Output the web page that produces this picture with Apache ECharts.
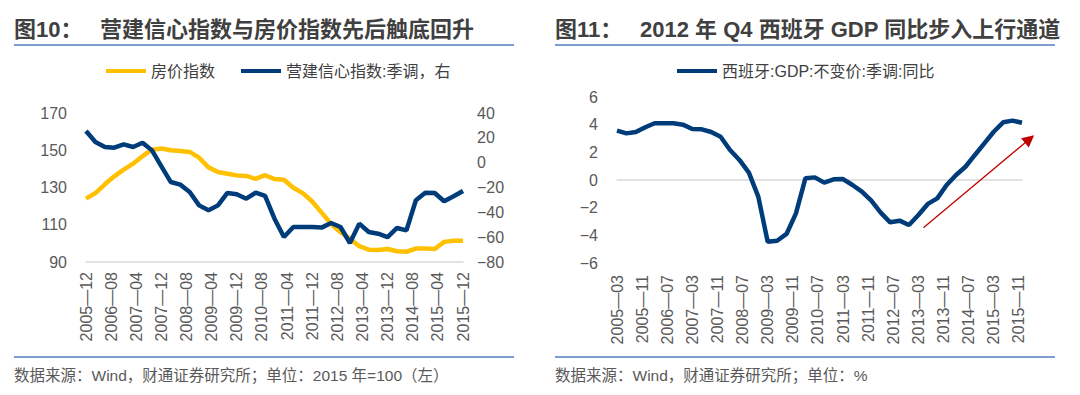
<!DOCTYPE html>
<html><head><meta charset="utf-8">
<script src="https://cdn.jsdelivr.net/npm/echarts@6/dist/echarts.min.js"></script>
<style>html,body{margin:0;padding:0;background:#fff;}#c{width:1080px;height:395px;}</style>
</head><body><div id="c"></div>
<script>
// ---------- data ----------
const houseName = '房价指数';
const confName = '营建信心指数:季调，右';
const gdpName = '西班牙:GDP:不变价:季调:同比';

// quarterly house price index (2015=100), 2005-12 .. 2015-12
const housePrice = [124.0, 127.0, 131.7, 136.0, 139.6, 142.8, 146.8, 150.3, 150.9, 150.0,
  149.6, 149.1, 146.0, 140.8, 138.3, 137.4, 136.5, 136.2, 134.6, 136.6,
  134.5, 134.2, 129.9, 127.0, 122.5, 116.5, 110.5, 106.0, 102.5, 98.5,
  96.6, 96.5, 97.0, 95.8, 95.5, 97.2, 97.3, 97.0, 100.8, 101.4, 101.4];
// quarterly construction confidence (SA), right axis
const constructionConf = [25.5, 16.6, 12.6, 12.1, 14.8, 12.6, 16.1, 9.9, -3.0, -15.6,
  -17.7, -23.6, -34.4, -38.4, -34.4, -24.4, -25.5, -29.0, -24.2, -26.8,
  -45.1, -59.9, -51.8, -51.8, -51.8, -52.3, -48.6, -51.8, -64.7, -49.1,
  -55.8, -57.2, -59.9, -52.6, -54.5, -30.3, -24.2, -24.4, -31.1, -27.1, -22.8];
// quarterly Spain real GDP yoy (%), 2005-03 .. 2015-12
const spainGdp = [3.57, 3.37, 3.47, 3.81, 4.10, 4.10, 4.10, 4.00, 3.69, 3.66,
  3.47, 3.13, 2.17, 1.45, 0.53, -1.20, -4.46, -4.39, -3.90, -2.41,
  0.12, 0.19, -0.19, 0.05, 0.07, -0.36, -0.84, -1.49, -2.36, -3.06,
  -2.94, -3.25, -2.53, -1.73, -1.33, -0.36, 0.36, 0.96, 1.81, 2.65,
  3.49, 4.17, 4.29, 4.14];

// axis ranges / ticks
const leftAxisTicks = {min: 90, max: 170, interval: 20};
const rightAxisTicks = {min: -80, max: 40, interval: 20};
const gdpAxisTicks = {min: -6, max: 6, interval: 2};

// arrow annotation (month index on the GDP axis, value)
const arrowFrom = [97.6, -3.45];
const arrowTo = [131.4, 2.96];

function monthRange(start, end, step) {
  let [y, m] = start.split('-').map(Number);
  const [ey, em] = end.split('-').map(Number);
  const out = [];
  while (y < ey || (y === ey && m <= em)) {
    out.push(y + '-' + String(m).padStart(2, '0'));
    m += step; while (m > 12) { m -= 12; y++; }
  }
  return out;
}
const leftMonths = monthRange('2005-12', '2015-12', 1);
const leftQuarters = monthRange('2005-12', '2015-12', 3);
const rightMonths = monthRange('2005-03', '2015-12', 1);
const rightQuarters = monthRange('2005-03', '2015-12', 3);

// ---------- styles ----------
const FONT = 'Liberation Sans, Arial, Noto Sans CJK SC, sans-serif';
const YELLOW = '#FFC000';
const NAVY = '#003C7A';
const LABEL = '#595959';
const minusFmt = v => (v < 0 ? '\u2212' + Math.abs(v) : String(v));
const dateFmt = v => v.replace('-', '\u2014');

const chart = echarts.init(document.getElementById('c'), null, {renderer: 'svg'});

const titleStyle = {fontSize: 22, fontWeight: 'bold', color: '#404040', fontFamily: FONT};
const footStyle = {fontSize: 15.5, fontWeight: 'normal', color: LABEL, fontFamily: FONT};

const option = {
  animation: false,
  backgroundColor: '#fff',
  textStyle: {fontFamily: FONT},
  title: [
    {text: '图10：', left: 14, top: 18, padding: 0, textStyle: titleStyle},
    {text: '营建信心指数与房价指数先后触底回升', left: 100, top: 18, padding: 0, textStyle: titleStyle},
    {text: '图11：', left: 555, top: 18, padding: 0, textStyle: titleStyle},
    {text: '2012 年 Q4 西班牙 GDP 同比步入上行通道', left: 640, top: 18, padding: 0, textStyle: titleStyle},
    {text: '数据来源：Wind，财通证券研究所；单位：2015 年=100（左）', left: 14, top: 368, padding: 0, textStyle: footStyle},
    {text: '数据来源：Wind，财通证券研究所；单位：%', left: 555, top: 368, padding: 0, textStyle: footStyle}
  ],
  graphic: [
    {type: 'line', shape: {x1: 14, y1: 45, x2: 514, y2: 45}, style: {stroke: '#4F81BD', lineWidth: 1.5}},
    {type: 'line', shape: {x1: 555, y1: 45, x2: 1055, y2: 45}, style: {stroke: '#4F81BD', lineWidth: 1.5}},
    {type: 'line', shape: {x1: 14, y1: 357, x2: 514, y2: 357}, style: {stroke: '#4F81BD', lineWidth: 1.5}},
    {type: 'line', shape: {x1: 555, y1: 357, x2: 1055, y2: 357}, style: {stroke: '#4F81BD', lineWidth: 1.5}}
  ],
  legend: [
    {data: [houseName, confName], left: 106, top: 63, padding: 0, icon: 'rect', itemWidth: 40, itemHeight: 4,
     itemGap: 26, textStyle: {fontSize: 16, color: '#404040', fontFamily: FONT}},
    {data: [gdpName], left: 677, top: 63, padding: 0, icon: 'rect', itemWidth: 40, itemHeight: 4,
     textStyle: {fontSize: 16, color: '#404040', fontFamily: FONT}}
  ],
  grid: [
    {left: 86, top: 113, width: 377, height: 149},
    {left: 617, top: 97, width: 405, height: 166}
  ],
  xAxis: [
    {gridIndex: 0, type: 'category', data: leftMonths, boundaryGap: false,
     axisLine: {onZero: false, lineStyle: {color: '#D9D9D9', width: 1.5}}, axisTick: {show: false},
     axisLabel: {interval: 7, rotate: 90, margin: 10, fontSize: 16, color: LABEL, formatter: dateFmt}},
    {gridIndex: 1, type: 'category', data: rightMonths, boundaryGap: false, position: 'bottom',
     axisLine: {show: false, onZero: false}, axisTick: {show: false},
     axisLabel: {interval: 7, rotate: 90, margin: 12, fontSize: 16, color: LABEL, formatter: dateFmt}},
    {gridIndex: 1, type: 'category', data: rightMonths, boundaryGap: false, position: 'bottom',
     axisLine: {show: true, onZero: true, lineStyle: {color: '#D9D9D9', width: 1.5}},
     axisTick: {show: false}, axisLabel: {show: false}}
  ],
  yAxis: [
    {gridIndex: 0, type: 'value', position: 'left', min: leftAxisTicks.min, max: leftAxisTicks.max, interval: leftAxisTicks.interval,
     axisLine: {show: false}, axisTick: {show: false}, splitLine: {show: false},
     axisLabel: {margin: 19, fontSize: 16, color: LABEL}},
    {gridIndex: 0, type: 'value', position: 'right', min: rightAxisTicks.min, max: rightAxisTicks.max, interval: rightAxisTicks.interval,
     axisLine: {show: false}, axisTick: {show: false}, splitLine: {show: false},
     axisLabel: {margin: 14, fontSize: 16, color: LABEL, formatter: minusFmt}},
    {gridIndex: 1, type: 'value', min: gdpAxisTicks.min, max: gdpAxisTicks.max, interval: gdpAxisTicks.interval,
     axisLine: {show: false}, axisTick: {show: false}, splitLine: {show: false},
     axisLabel: {margin: 19, fontSize: 16, color: LABEL, formatter: minusFmt}}
  ],
  series: [
    {name: houseName, type: 'line', xAxisIndex: 0, yAxisIndex: 0, showSymbol: false,
     data: leftQuarters.map((d, i) => [d, housePrice[i]]),
     itemStyle: {color: YELLOW}, lineStyle: {color: YELLOW, width: 4.5}},
    {name: confName, type: 'line', xAxisIndex: 0, yAxisIndex: 1, showSymbol: false,
     data: leftQuarters.map((d, i) => [d, constructionConf[i]]),
     itemStyle: {color: NAVY}, lineStyle: {color: NAVY, width: 4.5}},
    {name: gdpName, type: 'line', xAxisIndex: 1, yAxisIndex: 2, showSymbol: false,
     data: rightQuarters.map((d, i) => [d, spainGdp[i]]),
     itemStyle: {color: NAVY}, lineStyle: {color: NAVY, width: 4.5}}
  ]
};
chart.setOption(option);

// arrow: convert month index / value to pixels via the axes
const x0 = chart.convertToPixel({xAxisIndex: 1}, rightMonths[0]);
const x1 = chart.convertToPixel({xAxisIndex: 1}, rightMonths[rightMonths.length - 1]);
const toPx = p => ({
  x: x0 + (x1 - x0) * p[0] / (rightMonths.length - 1),
  y: chart.convertToPixel({yAxisIndex: 2}, p[1])
});
chart.setOption({
  series: [{}, {}, {
    markLine: {
      silent: true, animation: false, symbol: ['none', 'triangle'], symbolSize: 12,
      label: {show: false},
      lineStyle: {color: '#C00000', width: 1.3, type: 'solid'},
      data: [[toPx(arrowFrom), toPx(arrowTo)]]
    }
  }]
});
</script></body></html>
